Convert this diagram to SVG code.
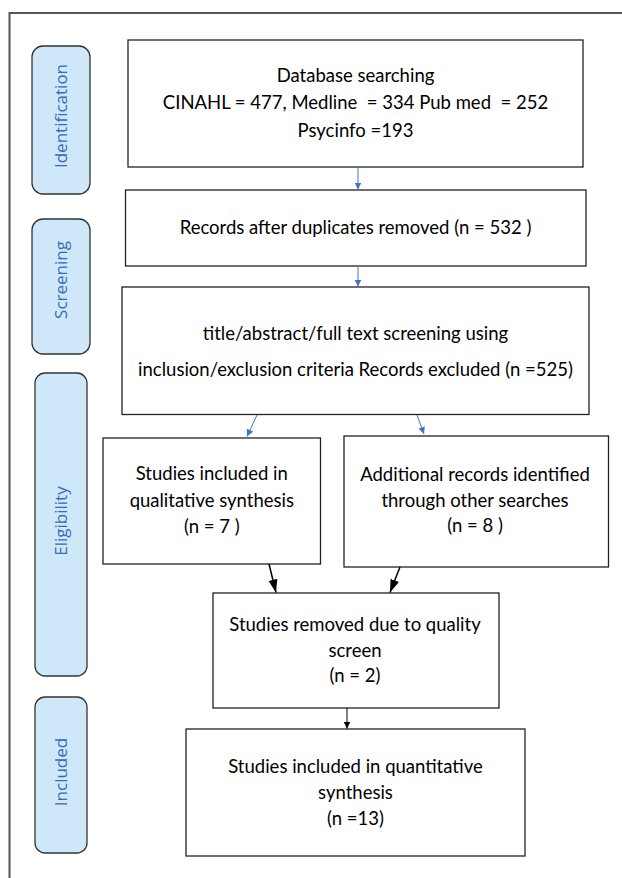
<svg xmlns="http://www.w3.org/2000/svg" width="622" height="878" viewBox="0 0 622 878">
<style>
.frame{fill:none;stroke:#555;stroke-width:2}
.pill{fill:#CFE8F9;stroke:#333;stroke-width:1.3}
.plab{font-family:"Open Sans","DejaVu Sans",sans-serif;font-size:17px;fill:#3B68BC;text-anchor:middle}
.box{fill:#fff;stroke:#222;stroke-width:1.3}
.t{font-family:Lato,"Liberation Sans",Arial,sans-serif;font-size:18.5px;fill:#000;text-anchor:middle;white-space:pre}
.blue{stroke:#4472C4;stroke-width:1;fill:none}
.blk{stroke:#000;stroke-width:1.5;fill:none}
.blk1{stroke:#000;stroke-width:1;fill:none}
</style>
<defs>
<marker id="hb" markerUnits="userSpaceOnUse" markerWidth="7" markerHeight="7" refX="7" refY="3.5" orient="auto"><path d="M0,0 L7,3.5 L0,7 z" fill="#4472C4"/></marker>
<marker id="hk" markerUnits="userSpaceOnUse" markerWidth="13" markerHeight="10" refX="13" refY="5" orient="auto"><path d="M0,0.5 L13,5 L0,9.5 z" fill="#000"/></marker>
<marker id="hs" markerUnits="userSpaceOnUse" markerWidth="7" markerHeight="7" refX="7" refY="3.5" orient="auto"><path d="M0,0 L7,3.5 L0,7 z" fill="#000"/></marker>
</defs>
<path class="frame" d="M9.5,878 V13 H622"/>

<g id="stage-identification"><rect class="pill" x="32" y="46" width="58" height="148" rx="11"/><text class="plab" transform="translate(67,116) rotate(-90)">Identification</text></g>
<g id="stage-screening"><rect class="pill" x="32" y="219" width="58" height="135" rx="11"/><text class="plab" transform="translate(67,280) rotate(-90)">Screening</text></g>
<g id="stage-eligibility"><rect class="pill" x="35" y="373" width="52" height="303" rx="10"/><text class="plab" transform="translate(66.5,521) rotate(-90)">Eligibility</text></g>
<g id="stage-included"><rect class="pill" x="35" y="697" width="52" height="156" rx="10"/><text class="plab" transform="translate(66.5,772) rotate(-90)">Included</text></g>

<g id="n-database"><rect class="box" x="128" y="40" width="455" height="127"/>
<text class="t" x="355.5" y="82">Database searching</text>
<text class="t" x="355.5" y="109">CINAHL = 477, Medline  = 334 Pub med  = 252</text>
<text class="t" x="355.5" y="137">Psycinfo =193</text></g>

<g id="n-records"><rect class="box" x="125.5" y="190" width="460.5" height="76"/>
<text class="t" x="355.5" y="233.5">Records after duplicates removed (n = 532 )</text></g>

<g id="n-screening"><rect class="box" x="122" y="287" width="467" height="127.5"/>
<text class="t" x="355.5" y="340">title/abstract/full text screening using</text>
<text class="t" x="355.5" y="376">inclusion/exclusion criteria Records excluded (n =525)</text></g>

<g id="n-qualitative"><rect class="box" x="103" y="438" width="217.5" height="126"/>
<text class="t" x="211.8" y="480">Studies included in</text>
<text class="t" x="211.8" y="506.5">qualitative synthesis</text>
<text class="t" x="211.8" y="533">(n = 7 )</text></g>

<g id="n-additional"><rect class="box" x="344" y="436" width="264.5" height="131"/>
<text class="t" x="475" y="480.5">Additional records identified</text>
<text class="t" x="475" y="507">through other searches</text>
<text class="t" x="475" y="532">(n = 8 )</text></g>

<g id="n-quality"><rect class="box" x="213" y="593" width="286" height="115"/>
<text class="t" x="355" y="631">Studies removed due to quality</text>
<text class="t" x="355" y="656.5">screen</text>
<text class="t" x="355" y="682">(n = 2)</text></g>

<g id="n-quantitative"><rect class="box" x="186" y="729" width="339" height="127"/>
<text class="t" x="355.5" y="773">Studies included in quantitative</text>
<text class="t" x="355.5" y="798.5">synthesis</text>
<text class="t" x="355.5" y="825">(n =13)</text></g>

<g id="connectors">
<line class="blue" x1="358" y1="167" x2="358" y2="189.5" marker-end="url(#hb)"/>
<line class="blue" x1="358" y1="266" x2="358" y2="286.5" marker-end="url(#hb)"/>
<line class="blue" x1="257" y1="415" x2="247" y2="436.5" marker-end="url(#hb)"/>
<line class="blue" x1="417" y1="415" x2="424" y2="434" marker-end="url(#hb)"/>
<line class="blk" x1="269" y1="564" x2="276" y2="592.5" marker-end="url(#hk)"/>
<line class="blk" x1="400" y1="567" x2="390" y2="592.5" marker-end="url(#hk)"/>
<line class="blk1" x1="347" y1="708" x2="347" y2="728.5" marker-end="url(#hs)"/>
</g>
</svg>
